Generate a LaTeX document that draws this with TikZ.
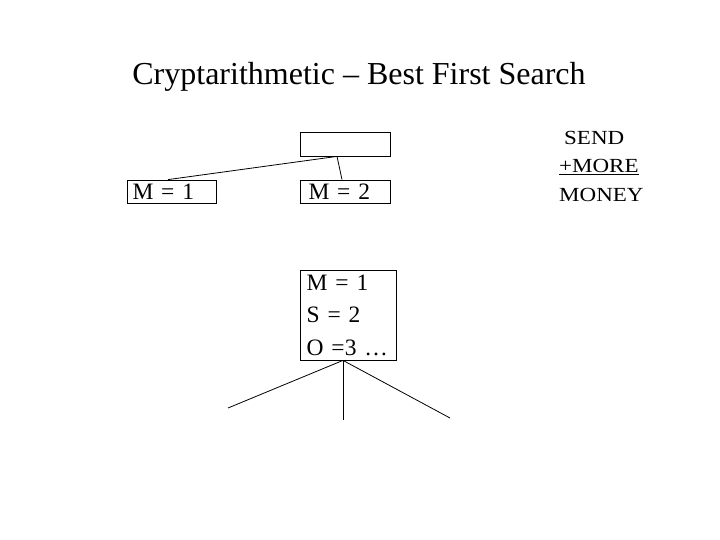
\documentclass[tikz,border=0pt]{standalone}
\usepackage{fontspec}
\setmainfont{Liberation Serif}
\newfontfamily\sendfont[FakeStretch=1.15]{Liberation Serif}
\tikzset{
  box/.style={draw, line width=0.8pt, rectangle, align=left, inner ysep=0pt,
    font=\fontsize{23.5}{32.5}\selectfont},
  link/.style={line width=0.8pt}
}
\begin{document}
\begin{tikzpicture}[x=1pt,y=-1pt]
\useasboundingbox (0,0) rectangle (720,540);
\node[anchor=base, font=\fontsize{32}{36}\selectfont, inner sep=0pt] (title) at (359,85) {Cryptarithmetic -- Best First Search};
\node[box, minimum height=24pt, inner xsep=0pt, text width=90pt] (top) at (345,144) {};
\node[box, minimum height=23pt, inner xsep=5.5pt, text width=78pt] (m1) at (171.5,191.5) {M = 1};
\node[box, minimum height=23pt, inner xsep=8.5pt, text width=73pt] (m2) at (345,191.5) {M = 2};
\node[box, minimum height=90pt, inner xsep=6pt, text width=84pt] (big) at (348.7,315) {M = 1\\S = 2\\O =3 …};
\node[anchor=north west, align=left, inner sep=0pt, font=\sendfont\fontsize{20}{28.5}\selectfont] (send) at (559,131) {\hspace*{0.25em}SEND\\\underline{+MORE}\\MONEY};
\coordinate (c1) at (228,408);
\coordinate (c2) at (343,420);
\coordinate (c3) at (450,418);
\draw[link] ([xshift=-8pt]top.south) -- ([xshift=-3.5pt]m1.north);
\draw[link] ([xshift=-8pt]top.south) -- ([xshift=-3pt]m2.north);
\draw[link] ([xshift=-5.7pt]big.south) -- (c1);
\draw[link] ([xshift=-5.7pt]big.south) -- (c2);
\draw[link] ([xshift=-5.7pt]big.south) -- (c3);
\end{tikzpicture}
\end{document}
